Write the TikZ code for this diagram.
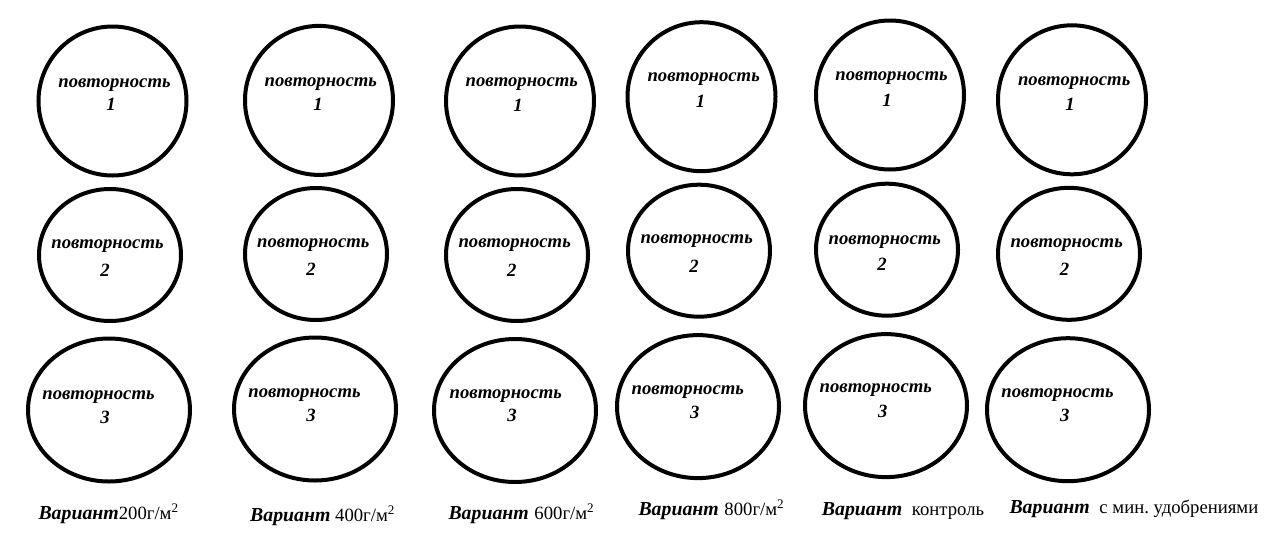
\documentclass[tikz,border=0pt]{standalone}
\usepackage{fontspec}
\setmainfont{Liberation Serif}
\usetikzlibrary{shapes.geometric}

\newcommand{\varword}{{\fontsize{19.8}{22}\selectfont\bfseries\itshape Вариант}}

\begin{document}
\begin{tikzpicture}[x=1pt,y=-1pt,
plotnode/.style={ellipse, draw=black, line width=4pt, inner sep=0pt},
plotA/.style={plotnode, minimum width=148pt, minimum height=149pt},
plotB/.style={plotnode, minimum width=142pt, minimum height=132pt},
plotC/.style={plotnode, minimum width=162pt, minimum height=143pt},
textnode/.style={anchor=base, inner sep=0pt, font=\fontsize{18.7}{22}\selectfont\bfseries\itshape},
varnode/.style={anchor=base west, inner sep=0pt, font=\fontsize{18.7}{22}\selectfont},
]
\useasboundingbox (0,0) rectangle (1269,533);

%Plots
\node[plotA] (v1p1) at (112.5,101)  {};
\node[plotB] (v1p2) at (110,255)    {};
\node[plotC] (v1p3) at (109,410)    {};
\node[plotA] (v2p1) at (319,100.4)  {};
\node[plotB] (v2p2) at (316,254)    {};
\node[plotC] (v2p3) at (315,409)    {};
\node[plotA] (v3p1) at (520,101)    {};
\node[plotB] (v3p2) at (517,255)    {};
\node[plotC] (v3p3) at (515,410.5)  {};
\node[plotA] (v4p1) at (701.5,96.7) {};
\node[plotB] (v4p2) at (699,250.7)  {};
\node[plotC] (v4p3) at (698,406.6)  {};
\node[plotA] (v5p1) at (890,95)     {};
\node[plotB] (v5p2) at (887,249.7)  {};
\node[plotC] (v5p3) at (886,405.6)  {};
\node[plotA] (v6p1) at (1072,99.8)  {};
\node[plotB] (v6p2) at (1069,253.8) {};
\node[plotC] (v6p3) at (1068,409.7) {};

%Texts
\node[textnode] (v1p1t) at (114.5,87.5)  {повторность};
\node[textnode] (v1p1n) at (111,110.7)   {1};
\node[textnode] (v1p2t) at (107.5,248)   {повторность};
\node[textnode] (v1p2n) at (105,276.5)   {2};
\node[textnode] (v1p3t) at (98.5,399)    {повторность};
\node[textnode] (v1p3n) at (105,423)     {3};
\node[textnode] (v2p1t) at (320.8,86.5)  {повторность};
\node[textnode] (v2p1n) at (318,110.4)   {1};
\node[textnode] (v2p2t) at (313.3,247)   {повторность};
\node[textnode] (v2p2n) at (311,275)     {2};
\node[textnode] (v2p3t) at (304.5,397)   {повторность};
\node[textnode] (v2p3n) at (311,421)     {3};
\node[textnode] (v3p1t) at (521.8,86.5)  {повторность};
\node[textnode] (v3p1n) at (518,111.4)   {1};
\node[textnode] (v3p2t) at (514.7,247)   {повторность};
\node[textnode] (v3p2n) at (511.7,276)   {2};
\node[textnode] (v3p3t) at (505.8,398)   {повторность};
\node[textnode] (v3p3n) at (512,421.8)   {3};
\node[textnode] (v4p1t) at (703.7,81.5)  {повторность};
\node[textnode] (v4p1n) at (700.5,107)   {1};
\node[textnode] (v4p2t) at (696.7,243)   {повторность};
\node[textnode] (v4p2n) at (694,272)     {2};
\node[textnode] (v4p3t) at (687.8,394)   {повторность};
\node[textnode] (v4p3n) at (694.7,418.5) {3};
\node[textnode] (v5p1t) at (891.5,80)    {повторность};
\node[textnode] (v5p1n) at (887,106)     {1};
\node[textnode] (v5p2t) at (884.8,244)   {повторность};
\node[textnode] (v5p2n) at (882,270.5)   {2};
\node[textnode] (v5p3t) at (875.8,392)   {повторность};
\node[textnode] (v5p3n) at (882.8,417)   {3};
\node[textnode] (v6p1t) at (1074.2,85.5) {повторность};
\node[textnode] (v6p1n) at (1070,110.4)  {1};
\node[textnode] (v6p2t) at (1066.7,247)  {повторность};
\node[textnode] (v6p2n) at (1064.5,275)  {2};
\node[textnode] (v6p3t) at (1057.5,397)  {повторность};
\node[textnode] (v6p3n) at (1064.7,421)  {3};

%Variants
\node[varnode] (var1) at (38.3,519)  {\varword200г/м\textsuperscript{2}};
\node[varnode] (var2) at (250,521)   {\varword{} 400г/м\textsuperscript{2}};
\node[varnode] (var3) at (448.3,519) {\varword\hspace{1pt} 600г/м\textsuperscript{2}};
\node[varnode] (var4) at (638.3,515) {\varword\hspace{1pt} 800г/м\textsuperscript{2}};
\node[varnode] (var5) at (821.7,515) {\varword\hspace{5pt} контроль};
\node[varnode] (var6) at (1009.3,513){\varword\hspace{5pt} с мин.\ удобрениями};
\end{tikzpicture}
\end{document}
